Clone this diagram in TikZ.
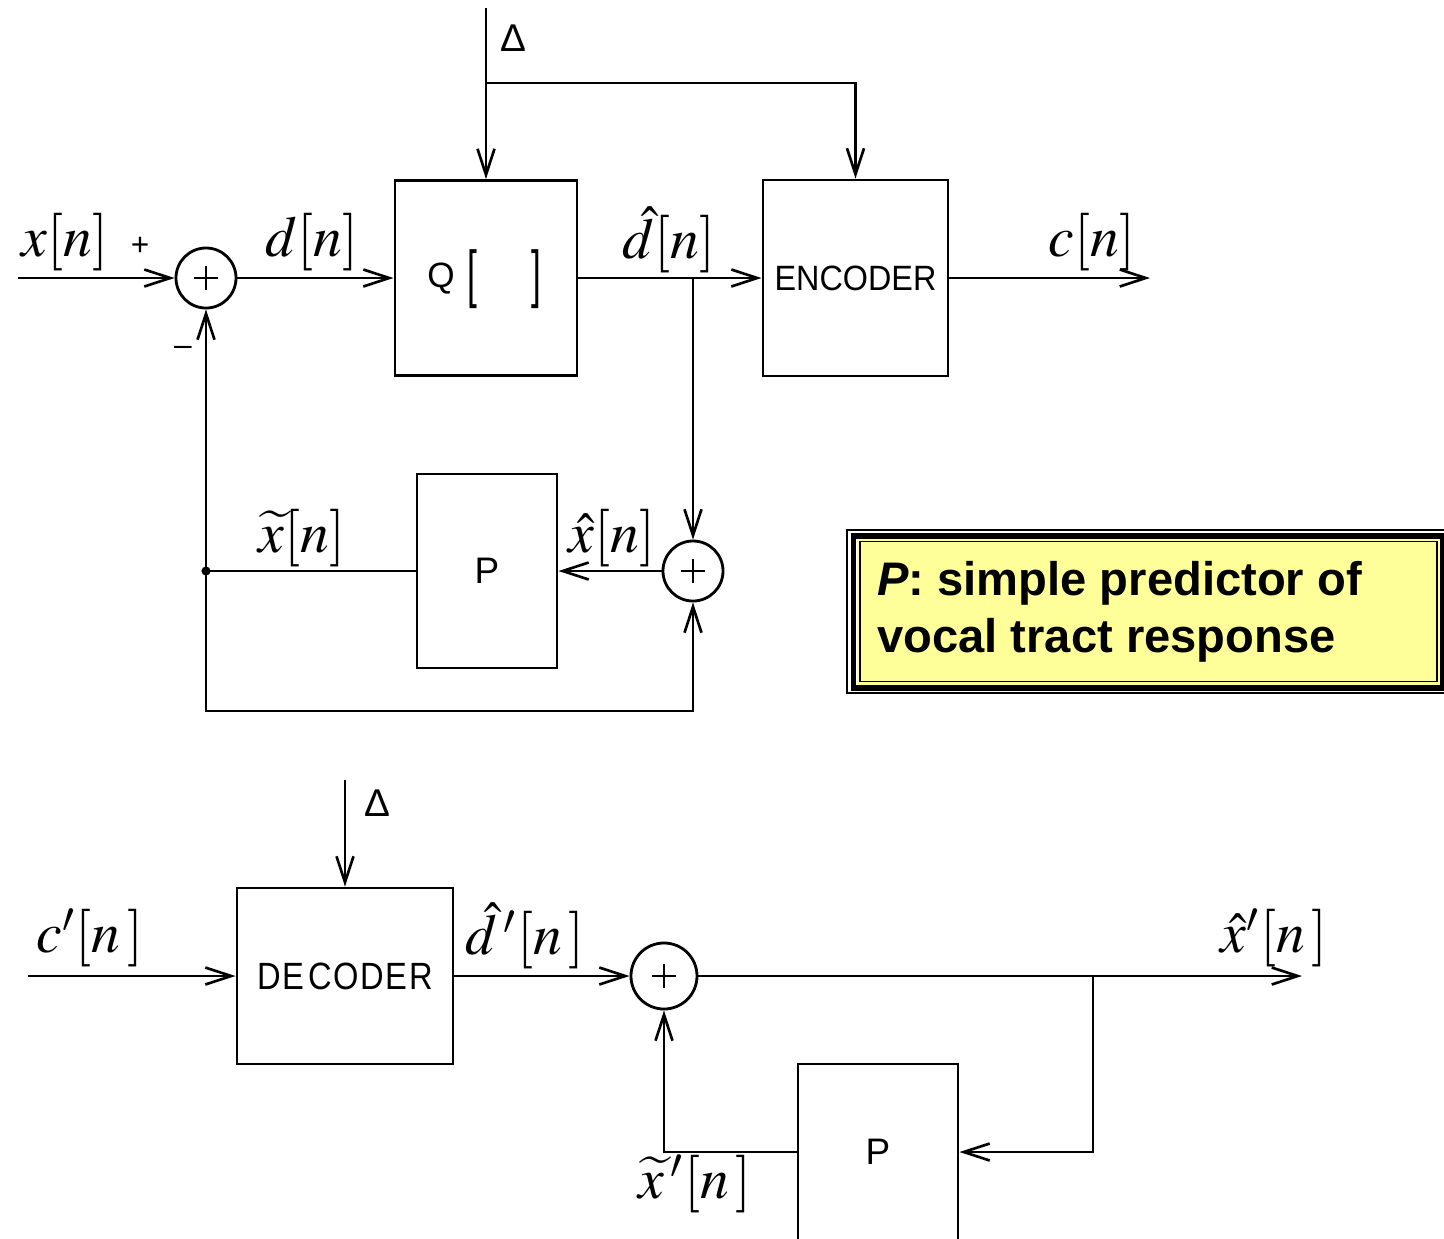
\documentclass[tikz,border=0pt]{standalone}
\usepackage{mathptmx}
\usepackage{fontspec}
\usepackage{graphicx}
\usetikzlibrary{arrows.meta}
\newfontfamily\lsans{Liberation Sans}
\definecolor{noteyellow}{RGB}{255,255,153}
\begin{document}
\begin{tikzpicture}[x=0.01cm,y=-0.01cm, line width=0.75pt,
  blk/.style={draw, line width=0.8pt, inner sep=0pt},
  sumnode/.style={draw, circle, minimum size=0.6cm, inner sep=0pt, line width=0.8pt,
    path picture={\draw[line width=0.8pt] ([xshift=-1.2mm]path picture bounding box.center) -- ([xshift=1.2mm]path picture bounding box.center);
                  \draw[line width=0.8pt] ([yshift=-1.2mm]path picture bounding box.center) -- ([yshift=1.2mm]path picture bounding box.center);}},
  arr/.style={-{Straight Barb[length=2.6mm,width=1.7mm]}},
  sig/.style={font=\fontsize{16.4pt}{19pt}\selectfont, inner sep=0pt},
  lett/.style={font=\lsans\fontsize{10pt}{12pt}\selectfont, inner sep=0pt},
  small/.style={font=\lsans\fontsize{9pt}{10pt}\selectfont, inner sep=0pt},
  plbl/.style={font=\lsans\fontsize{10.5pt}{12pt}\selectfont, inner sep=0pt},
  dlt/.style={font=\lsans\fontsize{11pt}{12pt}\selectfont, inner sep=0pt},
]
\useasboundingbox (0,0) rectangle (1444,1238);
\clip (0,0) rectangle (1444,1238);

% ---------------- encoder ----------------
\node[sumnode] (s1) at (206,278) {};
\node[blk, minimum width=1.82cm, minimum height=1.95cm] (Q) at (486,278) {};
\node[lett] (qlbl) at (441,279) {Q};
\node[lett] (lbr) at (472,279) {\scalebox{1}[1.8]{[}};
\node[lett] (rbr) at (536,279) {\scalebox{1}[1.8]{]}};
\node[blk, lett, minimum width=1.85cm, minimum height=1.96cm] (enc) at (855.5,278) {\scalebox{0.92}[1]{ENCODER}};
\node[sumnode] (s2) at (693,571) {};
\node[blk, plbl, minimum width=1.40cm, minimum height=1.94cm] (P1) at (487,571) {P};

\coordinate (dtop) at (486,8);
\coordinate (dbr) at (486,83);
\coordinate (xin) at (18,278);
\coordinate (cout) at (1150,278);
\coordinate (j1) at (693,278);
\coordinate (j2) at (206,571);
\coordinate (jb) at (206,711);

\draw[arr] (dtop) -- (Q.north);
\draw[arr] (dbr) -| (enc.north);
\draw[arr] (xin) -- (s1);
\draw[arr] (s1) -- (Q);
\draw[arr] (Q) -- (enc);
\draw[arr] (enc) -- (cout);
\draw[arr] (j1) -- (s2);
\draw[arr] (s2) -- (P1);
\draw (P1) -- (j2);
\fill (j2) circle (1.3pt);
\draw[arr] (j2) -- (s1);
\draw[arr] (j2) -- (jb) -| (s2.south);

\node[dlt] (dl1) at (513,38) {Δ};
\node[sig] (lx) at (65,242) {$x[n]$};
\node[small] (lplus) at (140,246) {+};
\node[small] (lminus) at (183,351) {–};
\node[sig] (ld) at (312,242) {$d[n]$};
\node[sig] (ldh) at (669,240) {$\hat{d}[n]$};
\node[sig] (lc) at (1092,242) {$c[n]$};
\node[sig] (lxh) at (612,538) {$\hat{x}[n]$};
\node[sig] (lxt) at (302,538) {$\widetilde{x}[n]$};

% ---------------- note box ----------------
\draw[line width=0.57pt] (846.5,529.5) rectangle (1460,693);
\draw[line width=1.7pt] (853.5,535.5) rectangle (1443,687.5);
\fill[noteyellow] (856.5,538.5) rectangle (1440,684.5);
\draw[line width=0.55pt] (860,541.5) rectangle (1437,681.5);
\node[anchor=base west, inner sep=0pt, font=\lsans\bfseries\fontsize{13.4pt}{16pt}\selectfont] (note1) at (876,595) {\textit{P}: simple predictor of};
\node[anchor=base west, inner sep=0pt, font=\lsans\bfseries\fontsize{13.4pt}{16pt}\selectfont] (note2) at (876,652) {vocal tract response};

% ---------------- decoder ----------------
\node[blk, lett, minimum width=2.16cm, minimum height=1.76cm] (dec) at (345,976) {\fontsize{10.8pt}{12pt}\selectfont\scalebox{0.86}[1]{D\kern0.5pt E\kern1.5pt C\kern0.5pt O\kern0.5pt D\kern0.5pt E\kern0.5pt R}};
\node[sumnode, minimum size=0.66cm] (s3) at (664,976) {};
\node[blk, plbl, minimum width=1.6cm, minimum height=1.76cm] (P2) at (878,1152) {P};

\coordinate (dtop2) at (345,780);
\coordinate (cin) at (28,976);
\coordinate (xout) at (1302,976);
\coordinate (j3) at (1093,976);

\draw[arr] (dtop2) -- (dec.north);
\draw[arr] (cin) -- (dec);
\draw[arr] (dec) -- (s3);
\draw[arr] (s3) -- (xout);
\draw[arr] (j3) |- (P2.east);
\draw[arr] (P2.west) -| (s3.south);

\node[dlt] (dl2) at (377,803) {Δ};
\node[sig] (lcp) at (90,938) {$c'[n\,]$};
\node[sig] (ldhp) at (525,936) {$\hat{d}\,'[n\,]$};
\node[sig] (lxhp) at (1274,938) {$\hat{x}'[n\,]$};
\node[sig] (lxtp) at (695,1184) {$\widetilde{x}\,'[n\,]$};
\end{tikzpicture}
\end{document}
